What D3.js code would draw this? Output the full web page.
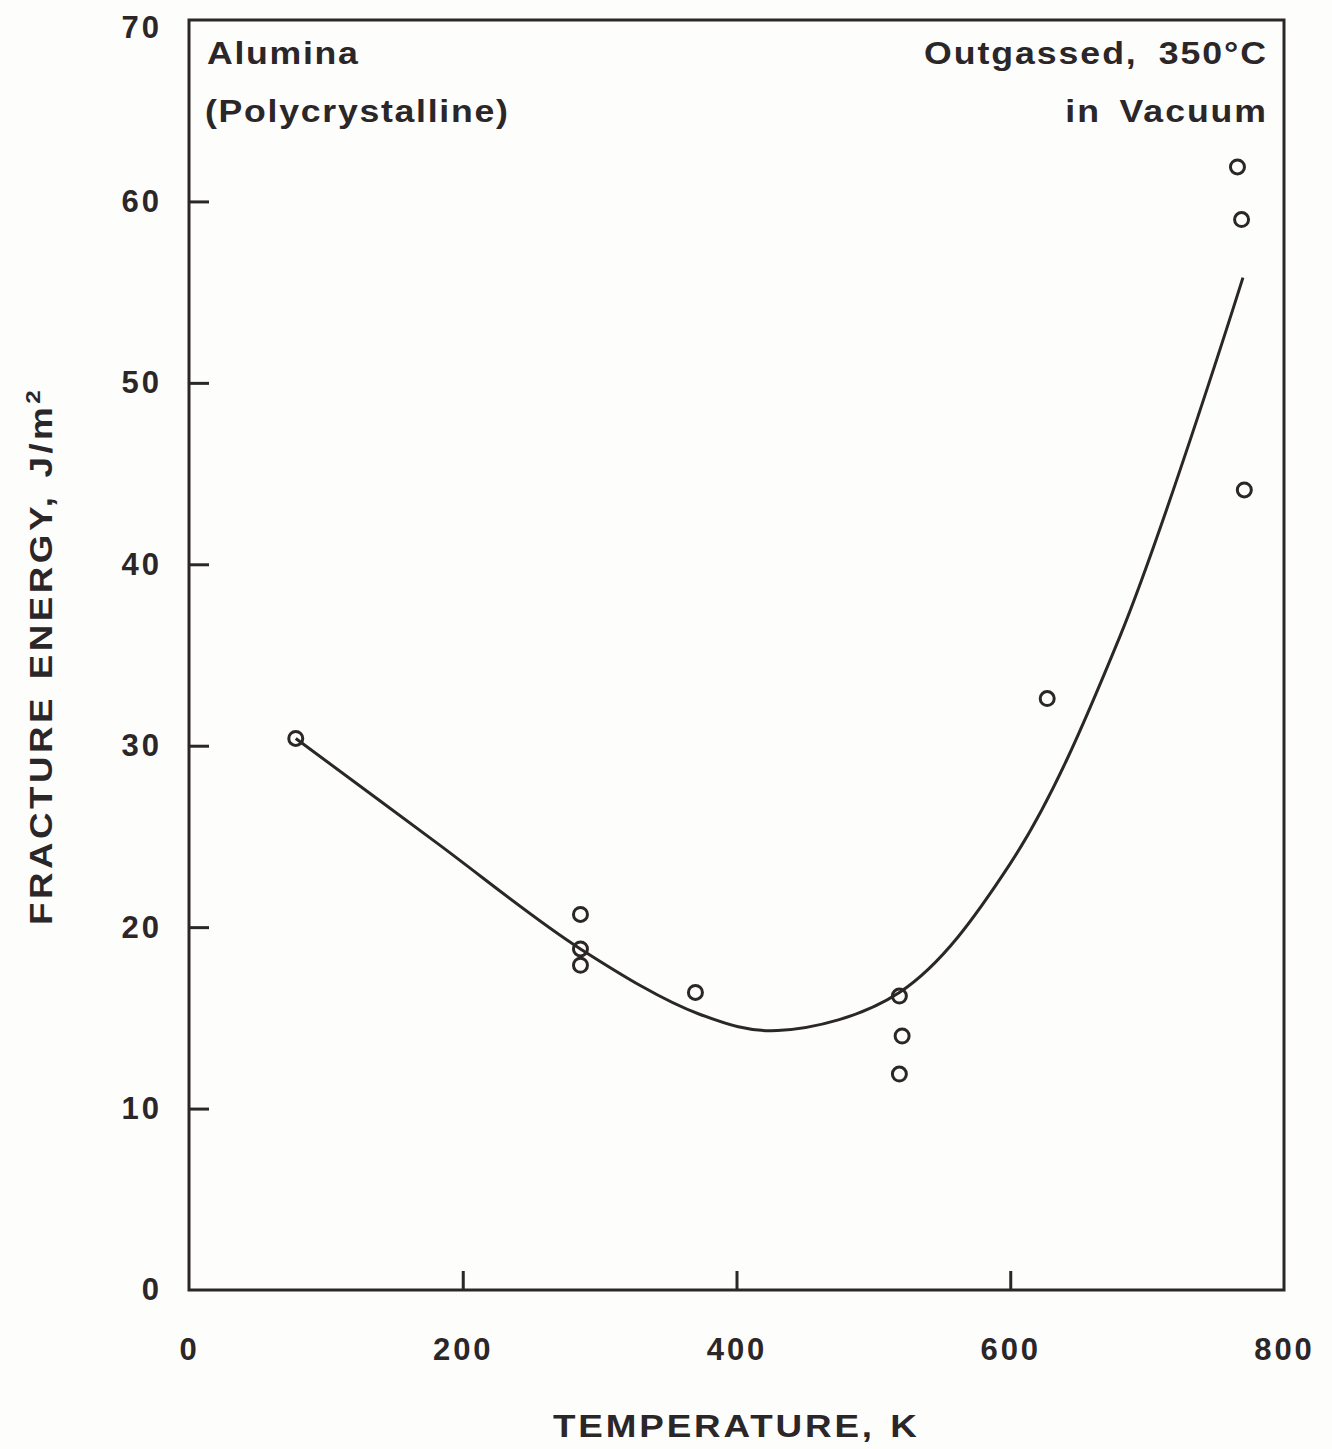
<!DOCTYPE html>
<html>
<head>
<meta charset="utf-8">
<script src="https://cdn.jsdelivr.net/npm/d3@7"></script>
<style>
  body { margin: 0; background: #fdfdfc; }
  text { font-family: 'Liberation Sans', Arial, sans-serif; font-weight: bold; fill: #2b2628; }
</style>
</head>
<body>
<div id="chart-area"></div>
<script>
// measured points (temperature K, fracture energy J/m^2)
var tempK = [78, 286, 286, 286, 370, 519, 521, 519, 627, 766, 769, 771];
var energy = [30.4, 20.7, 18.8, 17.9, 16.4, 16.2, 14.0, 11.9, 32.6, 61.9, 59.0, 44.1];

// hand drawn trend curve, read at a few knots
var curveK = [78, 180, 286, 373, 430, 519, 600, 680, 770];
var curveE = [30.4, 24.7, 18.8, 15.2, 14.3, 16.4, 23.5, 36.0, 55.8];

var xTicks = [0, 200, 400, 600, 800];
var yTicks = [0, 10, 20, 30, 40, 50, 60, 70];

var margin = { top: 20, right: 48, bottom: 159, left: 189 };
var width = 1332 - margin.left - margin.right;
var height = 1449 - margin.top - margin.bottom;
var ink = '#2b2628';

var svg = d3.select('#chart-area').append('svg')
	.attr('width', 1332)
	.attr('height', 1449);
var g = svg.append('g').attr('transform', `translate(${margin.left}, ${margin.top})`);

var x = d3.scaleLinear().domain([0, 800]).range([0, width]);
var y = d3.scaleLinear().domain([0, 70]).range([height, 0]);

// frame
g.append('rect')
	.attr('width', width).attr('height', height)
	.attr('fill', 'none').attr('stroke', ink).attr('stroke-width', 3);

// inward ticks, labels outside
var xAxis = g.append('g').attr('transform', `translate(0, ${height})`)
	.call(d3.axisBottom(x).tickValues(xTicks).tickSize(-19).tickPadding(48).tickFormat(d3.format('d')));
var yAxis = g.append('g')
	.call(d3.axisLeft(y).tickValues(yTicks).tickSize(-20).tickPadding(27).tickFormat(d3.format('d')));
[xAxis, yAxis].forEach(a => {
	a.select('.domain').remove();
	a.selectAll('line').attr('stroke', ink).attr('stroke-width', 3)
		.filter(d => d === 0 || d === 800 || d === 70).remove();
	a.selectAll('text').attr('font-size', '31px').attr('fill', ink)
		.attr('letter-spacing', '3px').style('font-family', null);
});
yAxis.selectAll('text').filter(d => d === 70).attr('dy', '0.55em');

// trend curve
var curveData = curveK.map((k, i) => [k, curveE[i]]);
g.append('path')
	.datum(curveData)
	.attr('fill', 'none').attr('stroke', ink).attr('stroke-width', 3)
	.attr('d', d3.line().x(d => x(d[0])).y(d => y(d[1])).curve(d3.curveCatmullRom.alpha(0.5)));

// points
g.selectAll('circle').data(tempK).enter().append('circle')
	.attr('cx', d => x(d))
	.attr('cy', (d, i) => y(energy[i]))
	.attr('r', 7)
	.attr('fill', 'none').attr('stroke', ink).attr('stroke-width', 3);

// wide lettering: stretch the glyphs a little
var label = (tf, size, spacing, words, anchor, s) => g.append('text')
	.attr('transform', tf + ' scale(1.15,1)')
	.attr('font-size', size + 'px')
	.attr('text-anchor', anchor).attr('letter-spacing', spacing + 'px').attr('word-spacing', words + 'px')
	.text(s);
label('translate(18, 44)', 31, 1.5, 0, 'start', 'Alumina');
label('translate(16, 102)', 31, 1.5, 0, 'start', '(Polycrystalline)');
label(`translate(${width - 16}, 44)`, 31, 1.7, 8, 'end', 'Outgassed, 350°C');
label(`translate(${width - 16}, 102)`, 31, 1.7, 6, 'end', 'in Vacuum');

// axis titles
label(`translate(364, ${height + 147})`, 32, 2.5, 2, 'start', 'TEMPERATURE, K');

var yl = label(`translate(-137, ${925 - margin.top}) rotate(-90)`, 32, 3, 2, 'start', '');
yl.append('tspan').text('FRACTURE ENERGY, J/m');
yl.append('tspan').attr('dy', '-12').attr('font-size', '21px').text('2');
</script>
</body>
</html>
